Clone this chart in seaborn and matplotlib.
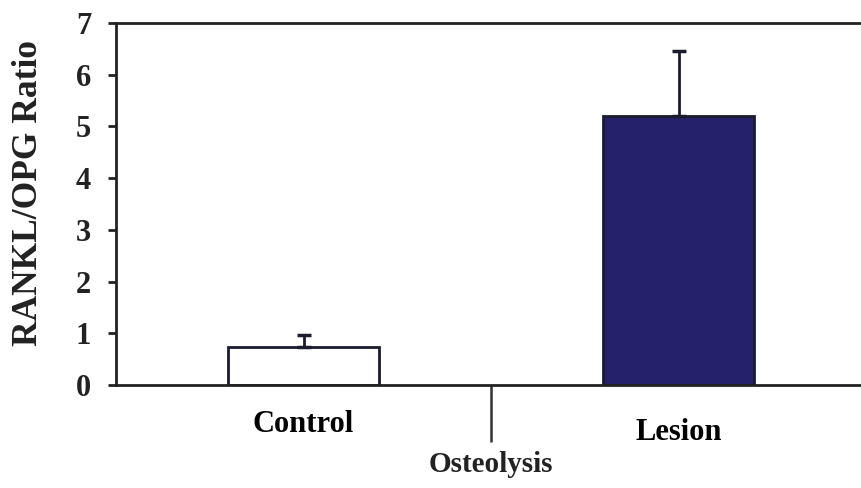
import matplotlib
matplotlib.use("Agg")
import matplotlib.pyplot as plt
import seaborn as sns

# values
groups = ["Control", "Lesion"]
ratios = [0.74, 5.2]
sem = [0.22, 1.25]
bar_colors = ["#ffffff", "#25226b"]
yticks = [0, 1, 2, 3, 4, 5, 6, 7]

sns.set_style("white")
plt.rcParams["font.family"] = ["Liberation Serif", "DejaVu Serif"]
plt.rcParams["font.weight"] = "bold"

fig = plt.figure(figsize=(8.61, 4.88), dpi=100)
ax = fig.add_axes([116 / 861, 103 / 488, 750 / 861, 362 / 488])

sns.barplot(x=groups, y=ratios, hue=groups, palette=bar_colors, legend=False,
            width=0.405, saturation=1, edgecolor="#1b1b30", linewidth=2, ax=ax)
ax.errorbar(range(len(groups)), ratios, yerr=[[0] * len(sem), sem], fmt="none",
            ecolor="#1b1b30", elinewidth=2, capsize=4.7, capthick=2.5)

ax.set_xlim(-0.5, 1.5)
ax.set_ylim(0, 7)
ax.set_yticks(yticks)
ax.tick_params(axis="y", direction="out", length=6, width=2, pad=12,
               labelsize=22, left=True, colors="#222222", labelcolor="#222222")
for lab in ax.get_yticklabels():
    lab.set_fontweight("bold")

# no category labels on ticks; place them like the reference
ax.set_xticks([])
ax.set_xticks([0.5], minor=True)
ax.tick_params(axis="x", which="minor", direction="out", length=41, width=1.8,
               bottom=True, colors="#333333")
ax.set_xticklabels([], minor=True)
ax.set_xlabel("")

label_offsets = [-40, -47]
for i, g in enumerate(groups):
    ax.annotate(g, xy=(i, 0), xycoords="data", xytext=(0, label_offsets[i]),
                textcoords="offset pixels", ha="center", va="center",
                fontsize=22, fontweight="bold", color="black")
ax.annotate("Osteolysis", xy=(0.5, 0), xycoords="data", xytext=(0, -80),
            textcoords="offset pixels", ha="center", va="center",
            fontsize=21, fontweight="bold", color="#222222")

ax.set_ylabel("RANKL/OPG Ratio", fontsize=25.5, fontweight="bold", color="#222222")
ax.yaxis.set_label_coords(-0.094, 0.53)

for side in ["left", "bottom", "top"]:
    ax.spines[side].set_color("#222222")
    ax.spines[side].set_linewidth(2)
ax.spines["right"].set_visible(False)

fig.savefig("out.png", dpi=100)
